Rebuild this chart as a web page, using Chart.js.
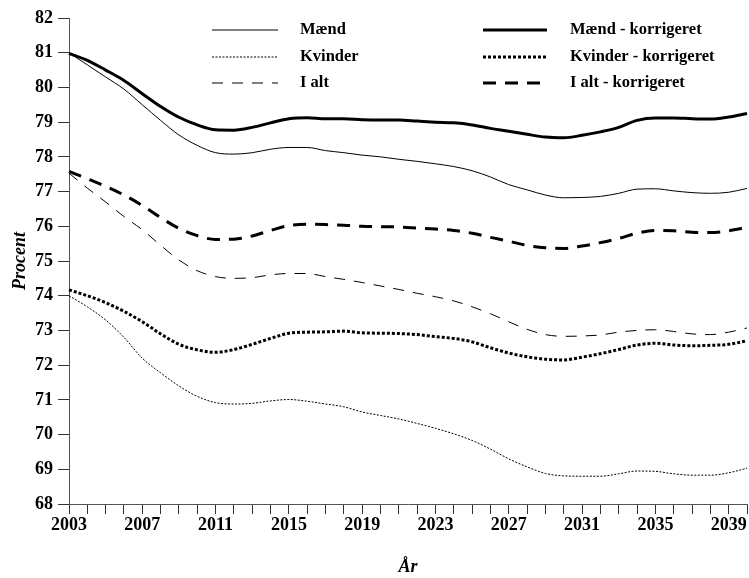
<!DOCTYPE html>
<html>
<head>
<meta charset="utf-8">
<script src="https://cdn.jsdelivr.net/npm/chart.js@4"></script>
<style>
  html, body { margin: 0; padding: 0; background: #fff; }
  #wrap { width: 749px; height: 578px; position: relative; }
</style>
</head>
<body>
<div id="wrap"><canvas id="levetid"></canvas></div>
<script>
// år 2003-2040
const aar = [];
for (let a = 2003; a <= 2040; a++) aar.push(a);

const maend = [81.0, 80.65, 80.3, 79.95, 79.5, 79.05, 78.63, 78.33, 78.12, 78.08,
  78.12, 78.22, 78.27, 78.27, 78.18, 78.12, 78.05, 78.0, 77.93, 77.87,
  77.8, 77.72, 77.6, 77.42, 77.2, 77.05, 76.9, 76.82, 76.83, 76.86,
  76.95, 77.07, 77.08, 77.02, 76.97, 76.95, 76.98, 77.09];

const kvinder = [74.0, 73.68, 73.3, 72.8, 72.2, 71.78, 71.4, 71.1, 70.92, 70.88,
  70.9, 70.97, 71.01, 70.96, 70.88, 70.8, 70.65, 70.55, 70.45, 70.32,
  70.18, 70.02, 69.83, 69.58, 69.3, 69.07, 68.88, 68.81, 68.8, 68.8,
  68.87, 68.95, 68.94, 68.87, 68.83, 68.83, 68.9, 69.03];

const iAlt = [77.53, 77.1, 76.7, 76.28, 75.9, 75.45, 75.03, 74.72, 74.55, 74.5,
  74.52, 74.6, 74.64, 74.64, 74.55, 74.47, 74.38, 74.28, 74.18, 74.07,
  73.97, 73.85, 73.68, 73.48, 73.25, 73.03, 72.88, 72.83, 72.84, 72.87,
  72.95, 73.0, 73.02, 72.97, 72.9, 72.88, 72.95, 73.07];

const maendKorr = [80.98, 80.78, 80.5, 80.2, 79.82, 79.45, 79.14, 78.92, 78.78, 78.77,
  78.85, 78.98, 79.1, 79.13, 79.1, 79.1, 79.07, 79.06, 79.06, 79.03,
  79.0, 78.98, 78.92, 78.82, 78.74, 78.65, 78.57, 78.55, 78.62, 78.72,
  78.85, 79.05, 79.12, 79.12, 79.1, 79.09, 79.15, 79.25];

const kvinderKorr = [74.17, 74.0, 73.8, 73.55, 73.25, 72.9, 72.6, 72.44, 72.37, 72.45,
  72.6, 72.77, 72.92, 72.95, 72.96, 72.98, 72.93, 72.92, 72.91, 72.88,
  72.82, 72.77, 72.67, 72.5, 72.35, 72.24, 72.17, 72.15, 72.23, 72.33,
  72.45, 72.58, 72.63, 72.58, 72.56, 72.57, 72.6, 72.7];

const iAltKorr = [77.58, 77.37, 77.15, 76.9, 76.6, 76.25, 75.94, 75.73, 75.62, 75.63,
  75.72, 75.88, 76.02, 76.06, 76.05, 76.03, 76.0, 75.99, 75.98, 75.95,
  75.92, 75.88, 75.8, 75.68, 75.57, 75.45, 75.38, 75.36, 75.43, 75.53,
  75.65, 75.8, 75.88, 75.87, 75.83, 75.82, 75.87, 75.97];

const serif = "'Liberation Serif', 'Times New Roman', serif";

function serie(label, data, width, dash) {
  return {
    label: label,
    data: data,
    borderColor: '#000',
    borderWidth: width,
    borderDash: dash,
    pointRadius: 0,
    fill: false,
    tension: 0.4,
    cubicInterpolationMode: 'monotone'
  };
}

// forklaring i to kolonner inde i plotområdet
const forklaring = {
  id: 'forklaring',
  afterDraw(chart) {
    const ctx = chart.ctx;
    const kolonner = [{ x1: 212, x2: 278, tx: 300 }, { x1: 483, x2: 547, tx: 570 }];
    const rækker = [30, 57, 83];
    ctx.save();
    ctx.font = "bold 16.5px " + serif;
    ctx.textBaseline = 'middle';
    ctx.fillStyle = '#000';
    chart.data.datasets.forEach((ds, i) => {
      const k = kolonner[Math.floor(i / 3)];
      const y = rækker[i % 3];
      ctx.beginPath();
      ctx.strokeStyle = '#000';
      ctx.lineWidth = ds.borderWidth;
      ctx.setLineDash(ds.borderDash || []);
      ctx.moveTo(k.x1, y);
      ctx.lineTo(k.x2, y);
      ctx.stroke();
      ctx.setLineDash([]);
      ctx.fillText(ds.label, k.tx, y);
    });
    ctx.restore();
  }
};

const ctx = document.getElementById('levetid').getContext('2d');
new Chart(ctx, {
  type: 'line',
  data: {
    labels: aar,
    datasets: [
      serie('Mænd', maend, 1, []),
      serie('Kvinder', kvinder, 1, [2, 1.5]),
      serie('I alt', iAlt, 1, [11, 9]),
      serie('Mænd - korrigeret', maendKorr, 3, []),
      serie('Kvinder - korrigeret', kvinderKorr, 3, [3, 2]),
      serie('I alt - korrigeret', iAltKorr, 3, [13, 9])
    ]
  },
  plugins: [forklaring],
  options: {
    responsive: true,
    maintainAspectRatio: false,
    animation: false,
    layout: { padding: { top: 18, right: 2, left: 10, bottom: 0 } },
    plugins: {
      legend: { display: false },
      tooltip: { enabled: false }
    },
    scales: {
      x: {
        type: 'category',
        offset: false,
        afterFit: (s) => { s.height = 74; },
        grid: {
          display: true,
          drawOnChartArea: false,
          drawTicks: true,
          tickLength: 10,
          color: '#333',
          lineWidth: 1
        },
        border: { display: true, color: '#555', width: 1 },
        ticks: {
          autoSkip: false,
          maxRotation: 0,
          padding: 1,
          color: '#000',
          font: { family: serif, size: 18, weight: 'bold' },
          callback: function (v, i) { return (i % 4 === 0 && i < 37) ? String(aar[i]) : ''; }
        },
        title: {
          display: true,
          text: 'År',
          color: '#000',
          padding: { top: 8, bottom: 0 },
          font: { family: serif, size: 18, weight: 'bold', style: 'italic' }
        }
      },
      y: {
        min: 68,
        max: 82,
        afterFit: (s) => { s.width = 59; },
        grid: {
          display: true,
          drawOnChartArea: false,
          drawTicks: true,
          tickLength: 11,
          color: '#333'
        },
        border: { display: true, color: '#555', width: 1 },
        ticks: {
          stepSize: 1,
          padding: 5,
          color: '#000',
          font: { family: serif, size: 18, weight: 'bold' }
        },
        title: {
          display: true,
          text: 'Procent',
          color: '#000',
          padding: { top: 0, bottom: 0 },
          font: { family: serif, size: 18, weight: 'bold', style: 'italic' }
        }
      }
    }
  }
});
</script>
</body>
</html>
